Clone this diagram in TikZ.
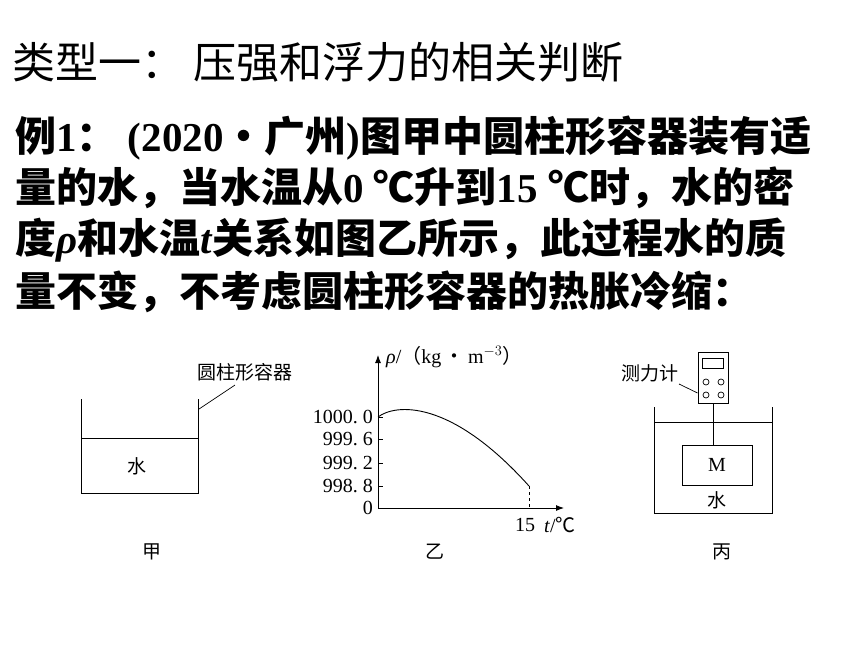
\documentclass[tikz,border=0pt]{standalone}
\usepackage{fontspec}
\usetikzlibrary{arrows.meta}
\setmainfont{Liberation Serif}
\newfontfamily\cjk{Noto Sans CJK SC}
\newcommand{\zh}[1]{{\cjk #1}}
\tikzset{
  titletext/.style={anchor=west, inner sep=0pt, font=\fontsize{43}{48}\selectfont},
  bodytext/.style={anchor=west, inner sep=0pt, font=\bfseries\fontsize{41}{48}\selectfont},
  figlabel/.style={inner sep=0pt, font=\cjk\fontsize{19}{21}\selectfont},
  ticklabel/.style={anchor=east, inner sep=0pt, font=\fontsize{20}{22}\selectfont},
  leader/.style={line width=0.7pt},
  wall/.style={line width=0.9pt}
}
\begin{document}
\begin{tikzpicture}[x=1pt, y=-1pt]
 \useasboundingbox (0,0) rectangle (860,645);

 % heading and question text
 \node[titletext] (title) at (12,62) {\zh{类型一：\ 压强和浮力的相关判断}};
 \node[bodytext] (line1) at (15,138) {\zh{例}1\zh{：} (2020\zh{·广州})\zh{图甲中圆柱形容器装有适}};
 \node[bodytext] (line2) at (15,188) {\zh{量的水，当水温从}0 \zh{℃升到}15 \zh{℃时，水的密}};
 \node[bodytext] (line3) at (15,240) {\zh{度}\textit{ρ}\zh{和水温}\textit{t}\zh{关系如图乙所示，此过程水的质}};
 \node[bodytext] (line4) at (15,292) {\zh{量不变，不考虑圆柱形容器的热胀冷缩：}};

 % figure jia
 \draw[wall] (81,399) -- (81,493) -- (198,493) -- (198,399);
 \draw[wall] (81,438) -- (198,438);
 \node[figlabel] (waterA) at (137,466) {水};
 \node[figlabel] (vessel) at (245,372) {圆柱形容器};
 \coordinate (vesselTip) at (199,409);
 \draw[leader] (vesselTip) -- (235,385);
 \node[figlabel] (capA) at (152,552) {甲};

 % figure yi
 \coordinate (O) at (378,508);
 \draw[wall, -{Latex[length=8pt]}] (O) -- (378,355);
 \draw[wall, -{Latex[length=8pt]}] (O) -- (564,508);
 \foreach \y/\lab in {417/1000.\ 0, 439/999.\ 6, 463/999.\ 2, 486/998.\ 8} {
   \draw[wall] (378,\y) -- (383,\y);
   \node[ticklabel] at (373,\y) {\lab};
 }
 \node[ticklabel] (zero) at (373,508) {0};
 \draw[line width=0.9pt] (378,417) .. controls (395,404) and (450,398) .. (529,486);
 \draw[wall, dashed] (529,486) -- (529,508);
 \node[ticklabel, anchor=center] (fifteen) at (525,525) {15};
 \node[ticklabel, anchor=west] (taxis) at (544,525) {\textit{t}/\zh{℃}};
 \node[ticklabel, anchor=west] (rhoaxis) at (386,357) {\textit{ρ}/\zh{（}kg\,\zh{·}\,m$^{-3}$\zh{）}};
 \node[figlabel] (capB) at (435,552) {乙};

 % figure bing
 \draw[wall] (654,407) -- (654,513) -- (772,513) -- (772,407);
 \draw[wall] (654,422) -- (772,422);
 \node[draw, wall, minimum width=30pt, minimum height=51pt, inner sep=0pt] (meter) at (713,377.5) {};
 \draw[wall] (702,358) rectangle (723,368);
 \foreach \cx/\cy in {706/382, 721/382, 706/395, 721/395}
   \draw[line width=0.7pt] (\cx,\cy) circle (3pt);
 \node[draw, wall, minimum width=70pt, minimum height=40pt, inner sep=0pt,
   font=\fontsize{20}{22}\selectfont] (M) at (717,465) {M};
 \draw[wall] (meter.south) -- (meter.south |- M.north);
 \node[figlabel] (waterC) at (717,500) {水};
 \node[figlabel] (gauge) at (650,373) {测力计};
 \draw[leader] (679,384) -- (meter.west |- 0,393);
 \node[figlabel] (capC) at (722,552) {丙};
\end{tikzpicture}
\end{document}
